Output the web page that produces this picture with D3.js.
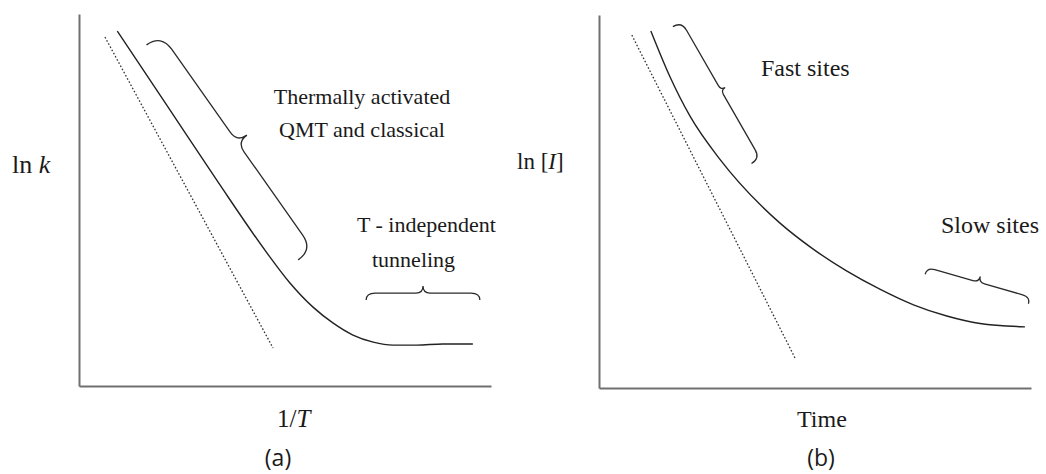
<!DOCTYPE html>
<html>
<head>
<meta charset="utf-8">
<script src="https://cdn.jsdelivr.net/npm/d3@7"></script>
<style>
  body { margin: 0; background: #fff; }
  svg { display: block; }
  .lbl { font-family: "Liberation Serif", "Times New Roman", serif; fill: #1a1a1a; }
  .cap { font-family: "Open Sans", "Noto Sans", sans-serif; fill: #1a1a1a; }
</style>
</head>
<body>
<svg width="1046" height="474"></svg>
<script>
// ---- data (panel units 0..10) ----
// (a) ln k vs 1/T
var curveAx = [0.93, 2.13, 3.34, 4.56, 5.12, 5.68, 6.17, 6.65, 7.14, 7.62, 8.20, 8.83, 9.56];
var curveAy = [9.54, 7.55, 5.54, 3.58, 2.77, 2.12, 1.69, 1.37, 1.18, 1.10, 1.10, 1.13, 1.13];
var dottedAx = [0.63, 4.71];
var dottedAy = [9.38, 1.02];

// (b) ln [I] vs time
var curveBx = [1.20, 1.64, 2.11, 2.80, 3.77, 4.19, 4.95, 5.73, 6.50, 7.28, 8.05, 8.82, 9.86];
var curveBy = [9.57, 8.35, 7.28, 6.13, 4.87, 4.42, 3.73, 3.14, 2.65, 2.23, 1.93, 1.73, 1.64];
var dottedBx = [0.76, 4.54];
var dottedBy = [9.46, 0.80];

// braces: [x1, y1, x2, y2] in panel units
var braceA = [[1.64, 9.17, 5.32, 3.39], [6.97, 2.31, 9.73, 2.31]];
var braceB = [[1.71, 9.69, 3.53, 6.02], [7.55, 3.05, 9.94, 2.26]];

var svg = d3.select("svg");

// scales
var xA = d3.scaleLinear().domain([0, 10]).range([79, 491]);
var yA = d3.scaleLinear().domain([0, 10]).range([386, 14]);
var xB = d3.scaleLinear().domain([0, 10]).range([599, 1031]);
var yB = d3.scaleLinear().domain([0, 10]).range([388, 15]);

function zip(xs, ys) {
    return xs.map(function(d, i) { return [d, ys[i]]; });
}

// curly brace between two screen points, tip to the left of p1->p2
function bracePath(x1, y1, x2, y2, h, t, r) {
    var dx = x2 - x1, dy = y2 - y1, L = Math.sqrt(dx * dx + dy * dy);
    var ex = dx / L, ey = dy / L, nx = ey, ny = -ex;
    function P(u, v) { return (x1 + u * ex + v * nx) + "," + (y1 + u * ey + v * ny); }
    var m = L / 2, r2 = Math.min(t - h, m - r);
    return "M" + P(0, 0) +
        " Q" + P(0, h) + " " + P(r, h) +
        " L" + P(m - r2, h) +
        " Q" + P(m, h) + " " + P(m, t) +
        " Q" + P(m, h) + " " + P(m + r2, h) +
        " L" + P(L - r, h) +
        " Q" + P(L, h) + " " + P(L, 0);
}

function drawPanel(x, y, cx, cy, dx, dy, braces, bparams) {
    var g = svg.append("g");

    g.append("g")
        .attr("transform", "translate(0," + y(0) + ")")
        .call(d3.axisBottom(x).ticks(0).tickSizeOuter(0));
    g.append("g")
        .attr("transform", "translate(" + x(0) + ",0)")
        .call(d3.axisLeft(y).ticks(0).tickSizeOuter(0));
    g.selectAll(".domain").attr("stroke", "#707070").attr("stroke-width", 2);

    var line = d3.line()
        .x(function(d) { return x(d[0]); })
        .y(function(d) { return y(d[1]); });

    g.append("path")
        .datum(zip(dx, dy))
        .attr("d", line)
        .attr("fill", "none")
        .attr("stroke", "#333")
        .attr("stroke-width", 1.3)
        .attr("stroke-dasharray", "1.6,2");

    g.append("path")
        .datum(zip(cx, cy))
        .attr("d", line.curve(d3.curveMonotoneX))
        .attr("fill", "none")
        .attr("stroke", "#222")
        .attr("stroke-width", 1.4);

    g.selectAll(".brace")
        .data(braces)
        .enter()
        .append("path")
        .attr("class", "brace")
        .attr("d", function(d, i) {
            var p = bparams[i];
            return bracePath(x(d[0]), y(d[1]), x(d[2]), y(d[3]), p[0], p[1], p[2]);
        })
        .attr("fill", "none")
        .attr("stroke", "#2a2a2a")
        .attr("stroke-width", 1.3);
    return g;
}

drawPanel(xA, yA, curveAx, curveAy, dottedAx, dottedAy, braceA, [[18, 30, 18], [7, 14, 9]]);
drawPanel(xB, yB, curveBx, curveBy, dottedBx, dottedBy, braceB, [[10, 15, 10], [7, 13, 8]]);

// ---- text ----
function label(x, y, size, parts, anchor) {
    var t = svg.append("text").attr("class", "lbl")
        .attr("x", x).attr("y", y)
        .style("font-size", size + "px")
        .attr("text-anchor", anchor || "start");
    parts.forEach(function(p) {
        var s = t.append("tspan").text(p[0]);
        if (p[1]) s.attr("font-style", "italic");
    });
    return t;
}

label(12, 173, 26, [["ln "], ["k", 1]]);
label(362, 104, 22, [["Thermally activated"]], "middle");
label(362, 137, 22, [["QMT and classical"]], "middle");
label(357, 232, 22, [["T - independent"]]);
label(372, 267, 22, [["tunneling"]]);
label(277, 427, 25, [["1/"], ["T", 1]]);

label(517, 169, 23, [["ln ["], ["I", 1], ["]"]]);
label(761, 76, 24, [["Fast sites"]]);
label(941, 233, 24, [["Slow sites"]]);
label(797, 427, 24, [["Time"]]);

svg.append("text").attr("class", "cap")
    .attr("x", 278).attr("y", 466).style("font-size", "23px")
    .attr("text-anchor", "middle").text("(a)");
svg.append("text").attr("class", "cap")
    .attr("x", 821).attr("y", 466).style("font-size", "23px")
    .attr("text-anchor", "middle").text("(b)");
</script>
</body>
</html>
